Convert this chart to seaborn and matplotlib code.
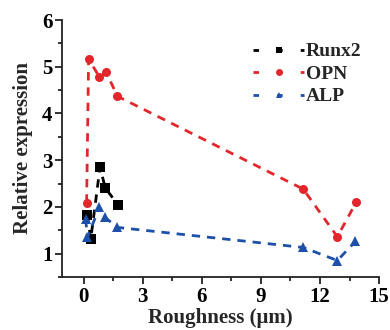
import matplotlib
matplotlib.use("Agg")
import matplotlib.pyplot as plt
from matplotlib.ticker import MultipleLocator
import seaborn as sns
import pandas as pd

runx2_x = [0.19, 0.36, 0.83, 1.10, 1.74]
runx2_y = [1.83, 1.31, 2.85, 2.40, 2.05]
opn_x = [0.15, 0.25, 0.80, 1.15, 1.71, 11.15, 12.88, 13.84]
opn_y = [2.09, 5.17, 4.78, 4.88, 4.37, 2.38, 1.36, 2.10]
alp_x = [0.10, 0.19, 0.80, 1.07, 1.71, 11.15, 12.88, 13.80]
alp_y = [1.74, 1.35, 1.99, 1.78, 1.56, 1.13, 0.85, 1.26]

sns.set_style("ticks")
plt.rcParams['font.family'] = ['Liberation Serif', 'DejaVu Serif']
plt.rcParams['font.weight'] = 'bold'

fig = plt.figure(figsize=(3.9, 3.3), dpi=100)
ax = fig.add_axes([0.159, 0.161, 0.813, 0.778])

series = [
    ("Runx2", runx2_x, runx2_y, "black", "s"),
    ("OPN", opn_x, opn_y, "#e3262b", "o"),
    ("ALP", alp_x, alp_y, "#1d50a8", "^"),
]
for name, xs, ys, col, mk in series:
    df = pd.DataFrame({"x": xs, "y": ys})
    sns.lineplot(data=df, x="x", y="y", ax=ax, sort=False, estimator=None,
                 color=col, linestyle=(0, (3, 2.5)), linewidth=2,
                 marker=mk, markersize=6.5, markeredgewidth=0,
                 label=name)

ax.set_xlim(-1.1, 15)
ax.set_ylim(0.5, 6)
ax.xaxis.set_major_locator(MultipleLocator(3))
ax.xaxis.set_minor_locator(MultipleLocator(1.5))
ax.yaxis.set_major_locator(MultipleLocator(1))
ax.yaxis.set_minor_locator(MultipleLocator(0.5))
ax.tick_params(which='major', length=5, width=1.3, labelsize=15, colors='#222222', labelcolor='black', pad=2)
ax.tick_params(which='minor', length=3, width=1.3, colors='#222222')
for lab in ax.get_xticklabels() + ax.get_yticklabels():
    lab.set_fontweight('bold')
for s in ['left', 'bottom']:
    ax.spines[s].set_linewidth(1.3)
    ax.spines[s].set_color('#222222')
ax.spines['top'].set_visible(False)
ax.spines['right'].set_visible(False)

ax.set_xlabel("Roughness (\u03bcm)", fontsize=15, fontweight='bold', labelpad=1)
ax.set_ylabel("Relative expression", fontsize=15, fontweight='bold', labelpad=6)

leg = ax.legend(loc='upper right', bbox_to_anchor=(1.0, 0.98), frameon=False,
                handlelength=2.6, handletextpad=0.1,
                labelspacing=0.25, prop={'weight': 'bold', 'size': 14})
for h in leg.legend_handles:
    h.set_markersize(5)
    h.set_linestyle((0, (2, 6.5)))

fig.savefig("out.png", dpi=100)
